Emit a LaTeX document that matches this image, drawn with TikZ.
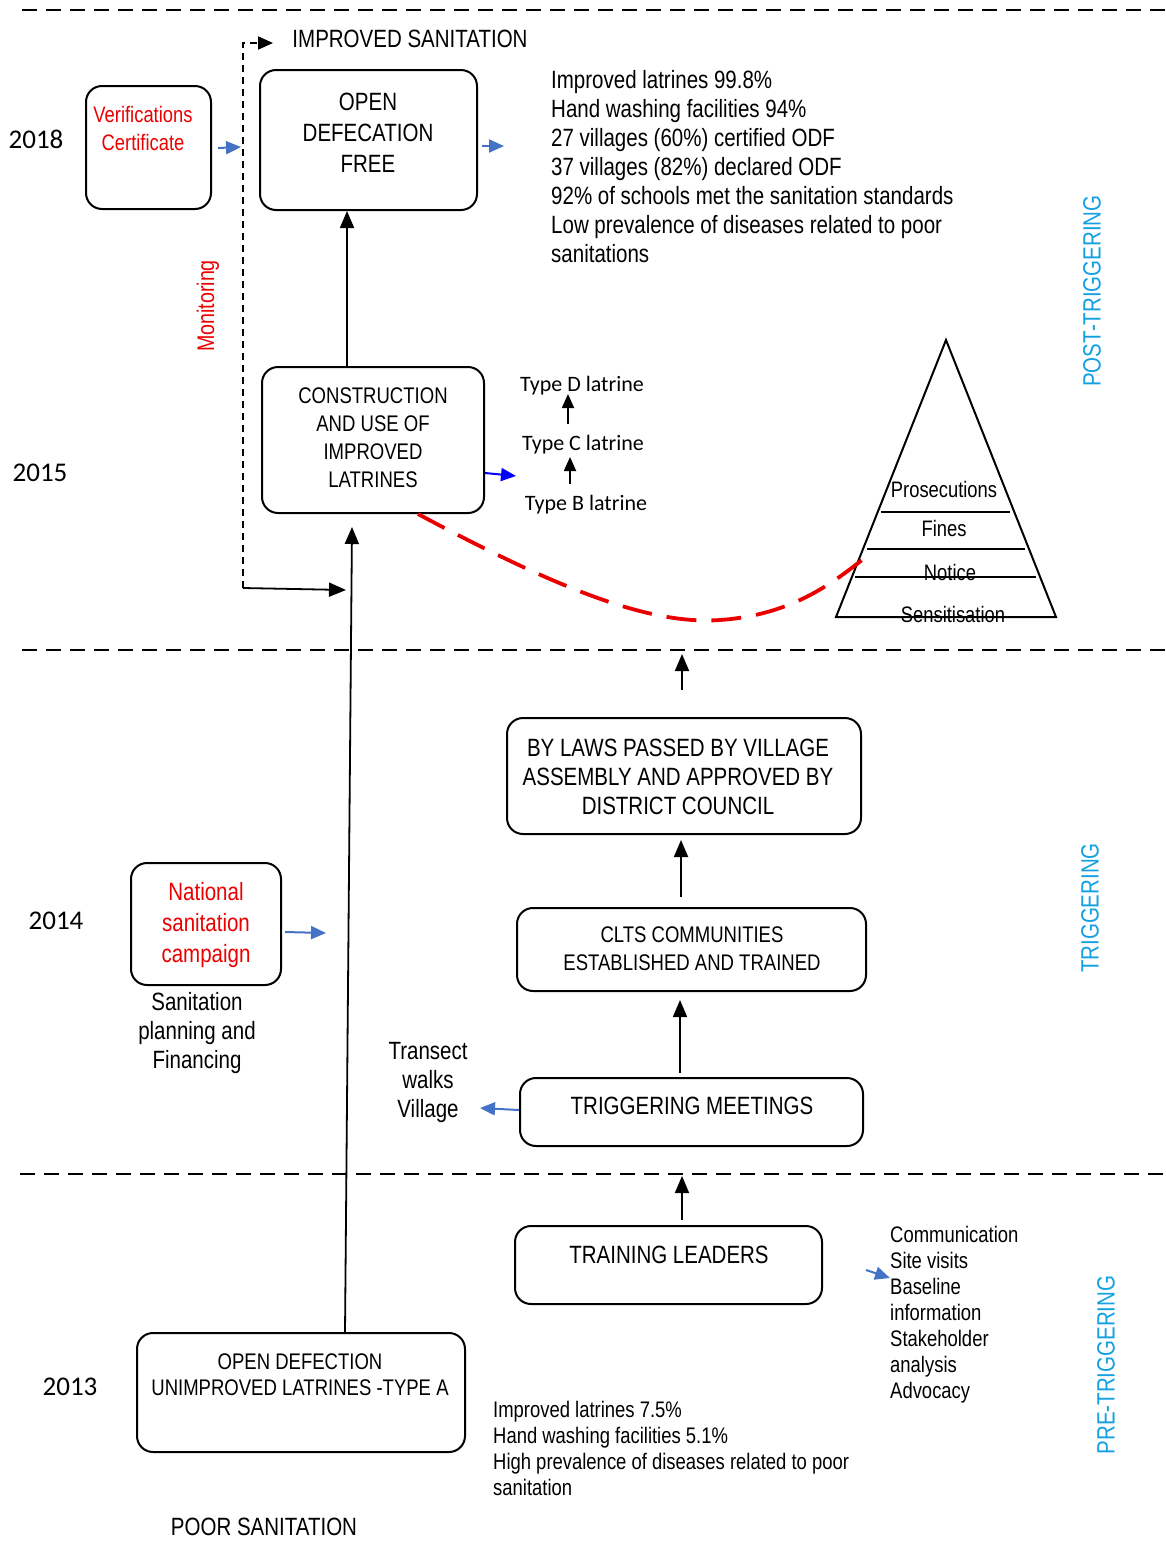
\documentclass[tikz,border=0pt]{standalone}
\usepackage{fontspec}
\setmainfont{Liberation Sans}[FakeStretch=0.82]
\newfontfamily\calib{Carlito}
\usetikzlibrary{arrows.meta}
\definecolor{arrblue}{RGB}{68,114,196}
\definecolor{phase}{RGB}{20,160,225}
\definecolor{redt}{RGB}{235,0,0}
\begin{document}
\begin{tikzpicture}[x=1pt,y=-1pt,
  box/.style={draw, line width=2pt, rounded corners=16pt, inner sep=0pt},
  fa/.style={font=\fontsize{25}{29}\selectfont, align=center, inner sep=0pt},
  fb/.style={font=\fontsize{22.6}{28}\selectfont, align=center, inner sep=0pt},
  fl/.style={font=\fontsize{22.5}{26}\selectfont, align=left, inner sep=0pt, anchor=west},
  yr/.style={font=\calib\fontsize{27}{30}\selectfont, inner sep=0pt},
  ty/.style={font=\calib\fontsize{22}{26}\selectfont, inner sep=0pt},
  ph/.style={font=\fontsize{25}{29}\selectfont, text=phase, rotate=90, inner sep=0pt},
  arr/.style={line width=1.8pt, -{Triangle[length=17pt,width=14pt]}},
  sarr/.style={line width=1.8pt, -{Triangle[length=14pt,width=12pt]}},
  barr/.style={line width=2pt, draw=arrblue, -{Triangle[length=15pt,width=13pt]}, arrblue},
  sep/.style={line width=2pt, dash pattern=on 15pt off 9pt},
  mon/.style={line width=2pt, dash pattern=on 7pt off 5pt},
  pyr/.style={line width=2pt}
]
\useasboundingbox (0,0) rectangle (1166,1564);

% phase separators
\coordinate (s1a) at (22,10);   \coordinate (s1b) at (1166,10);
\coordinate (s2a) at (22,650);  \coordinate (s2b) at (1166,650);
\coordinate (s3a) at (20,1174); \coordinate (s3b) at (1166,1174);
\draw[sep] (s1a) -- (s1b);
\draw[sep] (s2a) -- (s2b);
\draw[sep] (s3a) -- (s3b);

% boxes
\node[box, minimum width=125, minimum height=123] (ver) at (148.5,147.5) {};
\node[box, minimum width=217, minimum height=140] (odf) at (368.5,140) {};
\node[box, minimum width=222, minimum height=146] (cons) at (373,440) {};
\node[box, minimum width=354, minimum height=116] (bylaw) at (684,776) {};
\node[box, minimum width=349, minimum height=83] (clts) at (691.5,949.5) {};
\node[box, minimum width=150, minimum height=122] (nat) at (206,924) {};
\node[box, minimum width=343, minimum height=68] (trig) at (691.5,1112) {};
\node[box, minimum width=307, minimum height=78] (train) at (668.5,1265) {};
\node[box, minimum width=328, minimum height=119] (oda) at (301,1392.5) {};

% box texts
\node[fb, text=redt, font=\fontsize{22.4}{28}\selectfont] (vert) at (143,128) {Verifications\\Certificate};
\node[fa, font=\fontsize{25}{31}\selectfont] (odft) at (368,133) {OPEN\\DEFECATION\\FREE};
\node[fb] (const) at (373,438) {CONSTRUCTION\\AND USE OF\\IMPROVED\\LATRINES};
\node[fa] (bylawt) at (678,777) {BY LAWS PASSED BY VILLAGE\\ASSEMBLY AND APPROVED BY\\DISTRICT COUNCIL};
\node[fb] (cltst) at (692,949) {CLTS COMMUNITIES\\ESTABLISHED AND TRAINED};
\node[fa, text=redt, font=\fontsize{25}{31}\selectfont] (natt) at (206,925) {National\\sanitation\\campaign};
\node[fa] (trigt) at (692,1106) {TRIGGERING MEETINGS};
\node[fa] (traint) at (669,1255) {TRAINING LEADERS};
\node[fb, font=\fontsize{22.6}{26}\selectfont] (odat) at (300,1375) {OPEN DEFECTION\\UNIMPROVED LATRINES -TYPE A};

% free texts
\node[fa] (imps) at (410,39) {IMPROVED SANITATION};
\node[fl, font=\fontsize{25}{29}\selectfont] (res18) at (551,167) {Improved latrines 99.8\%\\Hand washing facilities 94\%\\27 villages (60\%) certified ODF\\37 villages (82\%) declared ODF\\92\% of schools met the sanitation standards\\Low prevalence of diseases related to poor\\sanitations};
\node[fa] (plan) at (197,1033) {Sanitation\\planning and\\Financing};
\node[fa] (trans) at (428,1082) {Transect\\walks\\Village};
\node[fl] (comm) at (890,1315) {Communication\\Site visits\\Baseline\\information\\Stakeholder\\analysis\\Advocacy};
\node[fl] (res13) at (493,1448) {Improved latrines 7.5\%\\Hand washing facilities 5.1\%\\High prevalence of diseases related to poor\\sanitation};
\node[fa] (poor) at (264,1527) {POOR SANITATION};

% years
\node[yr] (y18) at (36,139) {2018};
\node[yr] (y15) at (40,473) {2015};
\node[yr] (y14) at (56,921) {2014};
\node[yr] (y13) at (70,1387) {2013};

% phases
\node[ph] (post) at (1092,291) {POST-TRIGGERING};
\node[ph] (trg) at (1090,908) {TRIGGERING};
\node[ph] (pre) at (1106,1365) {PRE-TRIGGERING};
\node[fa, text=redt, rotate=90, font=\fontsize{24}{28}\selectfont] (monit) at (208,306) {Monitoring};

% latrine types
\node[ty] (td) at (582,386) {Type D latrine};
\node[ty] (tc) at (583,445) {Type C latrine};
\node[ty] (tb) at (586,505) {Type B latrine};
\coordinate (tda) at (568,424); \coordinate (tdb) at (568,394);
\coordinate (tca) at (570,484); \coordinate (tcb) at (570,457);
\draw[sarr] (tda) -- (tdb);
\draw[sarr] (tca) -- (tcb);

% pyramid
\coordinate (pA) at (946,340);
\coordinate (pL) at (836,617);
\coordinate (pR) at (1056,617);
\draw[pyr, line join=miter] (pA) -- (pL) -- (pR) -- cycle;
\coordinate (l1a) at (881,512); \coordinate (l1b) at (1010,512);
\coordinate (l2a) at (867,549); \coordinate (l2b) at (1025,549);
\coordinate (l3a) at (855,577); \coordinate (l3b) at (1036,577);
\draw[pyr] (l1a) -- (l1b);
\draw[pyr] (l2a) -- (l2b);
\draw[pyr] (l3a) -- (l3b);
\node[fb, font=\fontsize{22.4}{26}\selectfont] (pros) at (944,489) {Prosecutions};
\node[fb, font=\fontsize{22.4}{26}\selectfont] (fines) at (944,528) {Fines};
\node[fb, font=\fontsize{22.4}{26}\selectfont] (notice) at (950,572) {Notice};
\node[fb, font=\fontsize{22.4}{26}\selectfont] (sens) at (953,614) {Sensitisation};

% red dashed curve
\coordinate (cv0) at (418,514);
\coordinate (cv1) at (720,620);
\coordinate (cv2) at (862,560);
\draw[redt, line width=3.8pt, dash pattern=on 30pt off 15pt]
  (cv0) .. controls (560,590) and (650,625) .. (cv1)
        .. controls (790,615) and (830,585) .. (cv2);

% black connectors
\coordinate (xa) at (347,0);
\draw[arr] (cons.north -| xa) -- (odf.south -| xa);
\coordinate (lv0) at (345,1333); \coordinate (lv1) at (352,527);
\draw[arr] (lv0) -- (lv1);
\coordinate (m1) at (243,588); \coordinate (m2) at (273,43); \coordinate (m3) at (346,590);
\draw[mon, -{Triangle[length=15pt,width=13pt]}] (m1) |- (m2);
\draw[arr] (m1) -- (m3);
\coordinate (b1) at (682,690); \coordinate (b2) at (682,654);
\draw[arr] (b1) -- (b2);
\coordinate (c1) at (681,897); \coordinate (c2) at (681,840);
\draw[arr] (c1) -- (c2);
\coordinate (d1) at (680,1073); \coordinate (d2) at (680,1000);
\draw[arr] (d1) -- (d2);
\coordinate (e1) at (682,1220); \coordinate (e2) at (682,1176);
\draw[arr] (e1) -- (e2);

% blue connectors
\coordinate (f1) at (218,148); \coordinate (f2) at (241,147);
\draw[barr] (f1) -- (f2);
\coordinate (g1) at (482,146); \coordinate (g2) at (504,146);
\draw[barr] (g1) -- (g2);
\coordinate (h1) at (485,473); \coordinate (h2) at (516,476);
\draw[barr, draw=blue, blue] (h1) -- (h2);
\coordinate (i1) at (285,932); \coordinate (i2) at (326,933);
\draw[barr] (i1) -- (i2);
\coordinate (j1) at (519,1110); \coordinate (j2) at (480,1108);
\draw[barr] (j1) -- (j2);
\coordinate (k1) at (866,1270); \coordinate (k2) at (890,1278);
\draw[barr] (k1) -- (k2);
\end{tikzpicture}
\end{document}
